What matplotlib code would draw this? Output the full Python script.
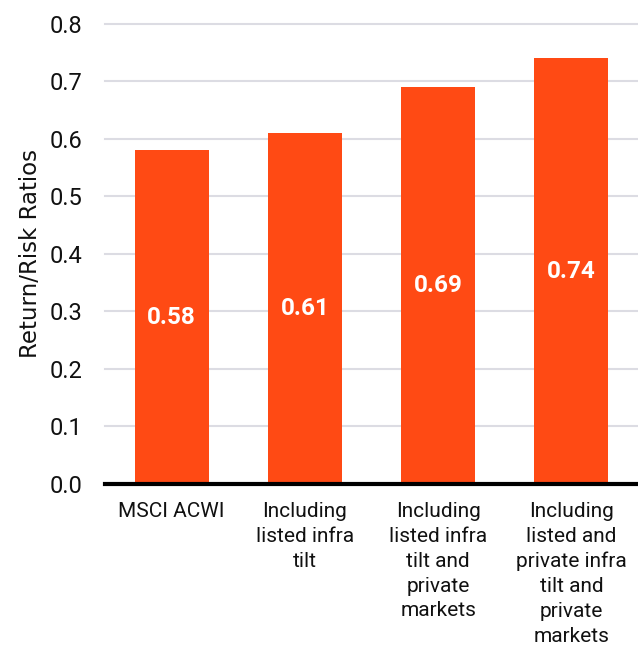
import matplotlib
matplotlib.use("Agg")
import matplotlib.pyplot as plt

categories = ["MSCI ACWI", "Including\nlisted infra\ntilt",
              "Including\nlisted infra\ntilt and\nprivate\nmarkets",
              "Including\nlisted and\nprivate infra\ntilt and\nprivate\nmarkets"]
values = [0.58, 0.61, 0.69, 0.74]
yticks = [0.0, 0.1, 0.2, 0.3, 0.4, 0.5, 0.6, 0.7, 0.8]

plt.rcParams['font.family'] = ['Roboto', 'DejaVu Sans']

fig = plt.figure(figsize=(6.38, 6.48), dpi=100)
ax = fig.add_axes([0.1646, 0.2531, 0.8354, 0.7106])

x = list(range(len(categories)))
ax.bar(x, values, width=0.555, color="#FF4A14", zorder=2)
for xi, v in zip(x, values):
    ax.text(xi, v / 2, f"{v:.2f}", ha="center", va="center", color="white",
            fontsize=17.5, fontweight="bold", zorder=3)

ax.set_xlim(-0.5, 3.5)
ax.set_ylim(0, 0.8)
ax.set_yticks(yticks)
ax.set_yticklabels([f"{t:.1f}" for t in yticks], fontsize=17)
ax.set_xticks(x)
ax.set_xticklabels(categories, fontsize=15, linespacing=1.39, va="top")
ax.tick_params(axis="both", length=0, colors="#111111")
ax.tick_params(axis="y", pad=16.5)
ax.tick_params(axis="x", pad=13)

ax.grid(axis="y", color="#dcdce3", linewidth=1.5, zorder=0)
ax.set_axisbelow(True)
for s in ["top", "right", "left"]:
    ax.spines[s].set_visible(False)
ax.spines["bottom"].set_linewidth(3)
ax.spines["bottom"].set_color("black")
ax.spines["bottom"].set_zorder(4)
for gl in ax.get_ygridlines():
    gl.set_clip_on(False)

ax.set_ylabel("Return/Risk Ratios", fontsize=16.5, labelpad=5,
              family=["DejaVu Sans"], color="#111111")

fig.savefig("out.png", dpi=100)
